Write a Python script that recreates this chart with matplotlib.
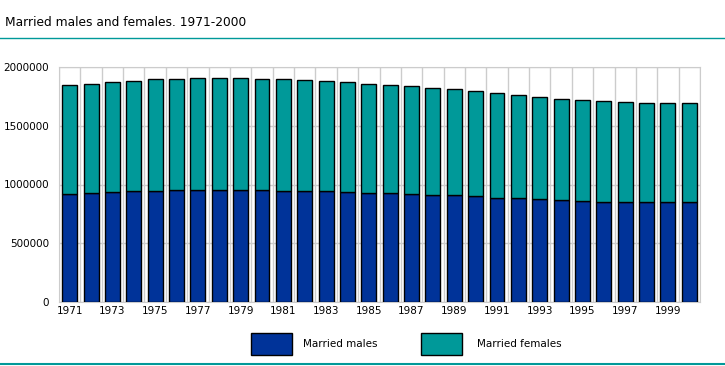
import matplotlib.pyplot as plt
from matplotlib.patches import Rectangle
import numpy as np

years = list(range(1971, 2001))
totals = [1849700, 1858000, 1872000, 1881000, 1898000, 1898000, 1906000, 1906000, 1906000, 1898000,
          1898000, 1889000, 1881000, 1872000, 1855000, 1847000, 1838000, 1821000, 1813000, 1796000,
          1779000, 1762000, 1745000, 1728000, 1719000, 1711000, 1702000, 1694000, 1694000, 1694000]
males = [919200, 927700, 936000, 945000, 945000, 953000, 953000, 953000, 953000, 953000,
         945000, 945000, 945000, 936000, 927700, 927700, 919000, 910700, 910700, 902000,
         885000, 885000, 876600, 868000, 859600, 851000, 851000, 851000, 851000, 851000]
females = [t - m for t, m in zip(totals, males)]
tick_labels = [str(y) if (y - 1971) % 2 == 0 else '' for y in years]
series_names = ['Married males', 'Married females']

male_col = '#003399'
female_col = '#009999'

plt.rcParams['font.family'] = 'DejaVu Sans'
fig = plt.figure(figsize=(7.25, 3.66), dpi=100)
W, H = 725, 366
ax = fig.add_axes([59/W, 64/H, 641/W, 235/H])

x = np.arange(len(years))
ax.bar(x, males, width=0.7, color=male_col, edgecolor='black', linewidth=1, zorder=3)
ax.bar(x, females, bottom=males, width=0.7, color=female_col, edgecolor='black', linewidth=1, zorder=3)

ax.set_xlim(-0.5, len(years) - 0.5)
ax.set_ylim(0, 2000000)
ax.set_yticks([0, 500000, 1000000, 1500000, 2000000])
ax.set_yticklabels(['0', '500000', '1000000', '1500000', '2000000'])
ax.set_xticks(x)
ax.set_xticklabels(tick_labels)
ax.set_xticks(np.arange(-0.5, len(years)), minor=True)
ax.tick_params(axis='both', length=0, labelsize=7.5)
ax.tick_params(axis='y', pad=7)
ax.tick_params(axis='x', pad=3)
ax.tick_params(axis='x', which='minor', length=0)
ax.grid(axis='y', color='#cccccc', linewidth=1, zorder=0)
ax.grid(axis='x', which='minor', color='#cccccc', linewidth=1, zorder=0)
for s in ax.spines.values():
    s.set_color('#cccccc')

# title and rules
fig.text(5/W, 1 - 22/H, 'Married males and females. 1971-2000', fontsize=8.8,
         va='center', ha='left')
fig.add_artist(plt.Line2D([0, 1], [1 - 38/H, 1 - 38/H], color=female_col, linewidth=1))
fig.add_artist(plt.Line2D([0, 1], [1 - 364/H, 1 - 364/H], color=female_col, linewidth=1.5))

# legend
for bx, tx, col, name in [(251, 303, male_col, series_names[0]), (421, 477, female_col, series_names[1])]:
    fig.add_artist(Rectangle((bx/W, 1 - 355/H), 41/W, 22/H, facecolor=col, edgecolor='black',
                             linewidth=1, transform=fig.transFigure))
    fig.text(tx/W, 1 - 344/H, name, fontsize=7.5, va='center', ha='left')

fig.savefig('out.png', dpi=100)
